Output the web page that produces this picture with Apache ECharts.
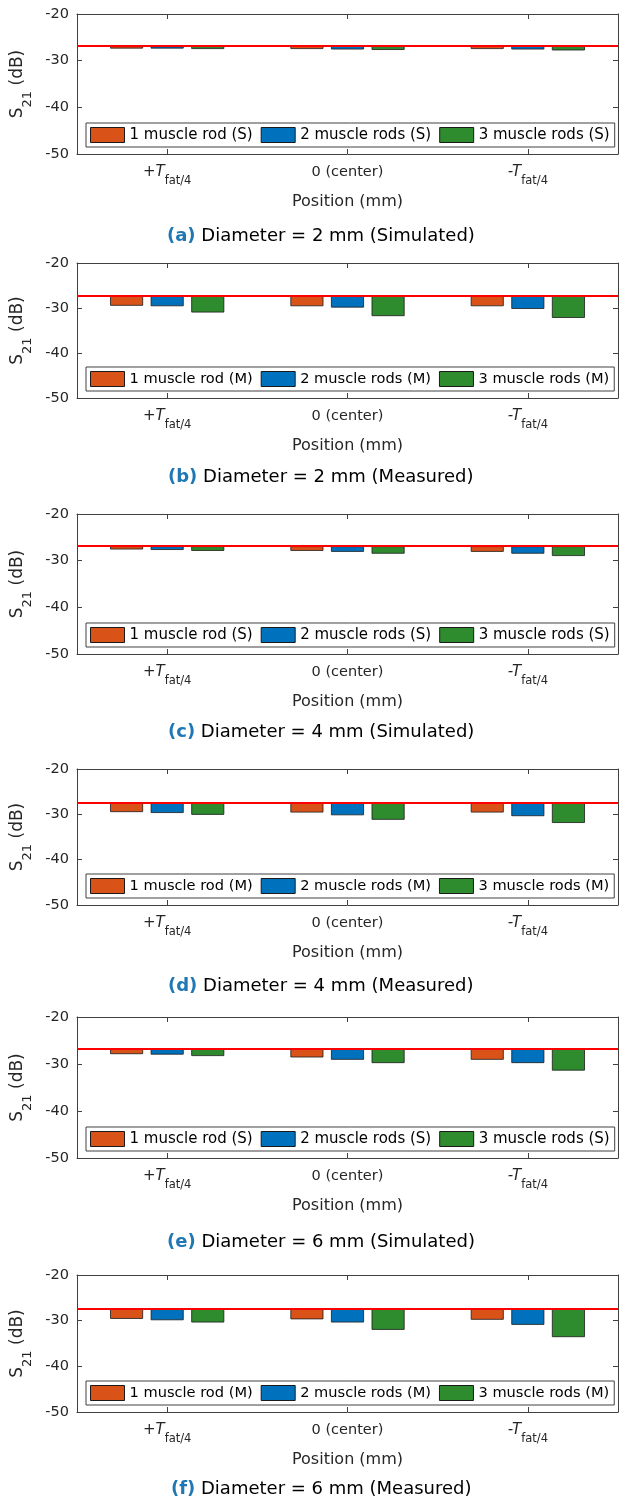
<!DOCTYPE html>
<html>
<head>
<meta charset="utf-8">
<title>S21 vs position</title>
<script src="https://cdn.jsdelivr.net/npm/echarts@6/dist/echarts.min.js"></script>
<style>
  html, body { margin: 0; padding: 0; background: #fff; }
  #main { width: 624px; height: 1508px; }
</style>
</head>
<body>
<div id="main"></div>
<script>
/*==================== 数据 ====================*/
// 横轴类别（下划线后为下标）
var positions = ['+T_fat/4', '0 (center)', '-T_fat/4'];
// 纵轴刻度
var yTicks = [-50, -40, -30, -20];
// 子图标号和标题
var panelTags = ['(a)', '(b)', '(c)', '(d)', '(e)', '(f)'];
var panelTitles = [
    'Diameter = 2 mm (Simulated)',
    'Diameter = 2 mm (Measured)',
    'Diameter = 4 mm (Simulated)',
    'Diameter = 4 mm (Measured)',
    'Diameter = 6 mm (Simulated)',
    'Diameter = 6 mm (Measured)'
];
var modeTags = ['S', 'M', 'S', 'M', 'S', 'M'];
var rodNames = ['1 muscle rod', '2 muscle rods', '3 muscle rods'];
// 参考线（无肌肉棒）
var refLevels = [-26.8, -27.3, -26.9, -27.4, -26.8, -27.4];
// 每个子图: [+T, 0, -T]
var oneRod = [
    [-27.4, -27.5, -27.5],
    [-29.5, -29.6, -29.6],
    [-27.6, -27.9, -28.1],
    [-29.5, -29.6, -29.6],
    [-27.9, -28.6, -29.1],
    [-29.6, -29.7, -29.8]
];
var twoRods = [
    [-27.4, -27.6, -27.6],
    [-29.6, -29.9, -30.2],
    [-27.7, -28.1, -28.5],
    [-29.7, -30.2, -30.4],
    [-28.0, -29.1, -29.8],
    [-29.9, -30.4, -30.9]
];
var threeRods = [
    [-27.5, -27.7, -27.8],
    [-31.0, -31.8, -32.2],
    [-27.9, -28.5, -29.0],
    [-30.1, -31.2, -31.9],
    [-28.3, -29.8, -31.4],
    [-30.4, -32.0, -33.6]
];

/*==================== 布局 ====================*/
var gridTops = [14, 263, 514, 769, 1017, 1275];
var gridHeights = [140, 135, 140, 136, 141, 137];
var captionTops = [227, 468, 723, 977, 1233, 1480];
var captionCenter = 321;

var font = 'DejaVu Sans';
var axisColor = '#404040';
var textColor = '#262626';
var barColors = ['#D95319', '#0072BD', '#2E8B2E'];
var yMin = yTicks[0], yMax = yTicks[yTicks.length - 1], yStep = yTicks[1] - yTicks[0];

// 量标题宽度，用来居中
var measureCtx = document.createElement('canvas').getContext('2d');
function captionWidth(tag, text) {
    measureCtx.font = 'bold 18px "' + font + '"';
    var w = measureCtx.measureText(tag).width;
    measureCtx.font = '18px "' + font + '"';
    return w + measureCtx.measureText(' ' + text).width;
}

function posLabel(value) { // +T_fat/4 -> 斜体 T + 下标
    var parts = value.split('_');
    if (parts.length > 1) {
        return '{i|' + parts[0] + '}{s|' + parts[1] + '}';
    }
    return '{m|' + value + '}';
}
var posRich = {
    m: { fontFamily: font, fontSize: 14.5, color: textColor, lineHeight: 18, verticalAlign: 'top' },
    i: { fontFamily: font, fontSize: 15, fontStyle: 'italic', color: textColor, lineHeight: 18, verticalAlign: 'top' },
    s: { fontFamily: font, fontSize: 11.5, color: textColor, lineHeight: 18, verticalAlign: 'top', padding: [10, 0, 0, 0] }
};
var lineCommon = { show: true, onZero: false, lineStyle: { color: axisColor, width: 1 } };
var tickCommon = { show: true, inside: true, length: 5, lineStyle: { color: axisColor, width: 1 } };

var grids = [], xAxes = [], yAxes = [], series = [], legends = [], titles = [];

for (var p = 0; p < 6; p++) {
    var ref = refLevels[p];
    var names = rodNames.map(function (n) { return n + ' (' + modeTags[p] + ')'; });
    var gTop = gridTops[p], gH = gridHeights[p];

    grids.push({ left: 77, width: 541, top: gTop, height: gH });

    // 下方类别轴 + 上方只画刻度
    xAxes.push({
        type: 'category', gridIndex: p, position: 'bottom', data: positions,
        axisLine: lineCommon,
        axisTick: { show: true, inside: true, length: 5, alignWithLabel: true, lineStyle: { color: axisColor } },
        axisLabel: { margin: 11, formatter: posLabel, rich: posRich },
        name: 'Position (mm)', nameLocation: 'middle', nameGap: 40,
        nameTextStyle: { fontFamily: font, fontSize: 16, color: textColor }
    });
    xAxes.push({
        type: 'category', gridIndex: p, position: 'top', data: positions,
        axisLine: lineCommon,
        axisTick: { show: true, inside: true, length: 5, alignWithLabel: true, lineStyle: { color: axisColor } },
        axisLabel: { show: false }
    });

    // 左侧数值轴 + 右侧只画刻度
    yAxes.push({
        type: 'value', gridIndex: p, position: 'left', min: yMin, max: yMax, interval: yStep,
        axisLine: lineCommon, axisTick: tickCommon, splitLine: { show: false },
        axisLabel: { margin: 8, fontFamily: font, fontSize: 14.5, color: textColor },
        name: '{s|S}{d|21}{s| (dB)}', nameLocation: 'middle', nameRotate: 90, nameGap: 40,
        nameTextStyle: {
            fontFamily: font, color: textColor,
            rich: {
                s: { fontFamily: font, fontSize: 17, color: textColor, lineHeight: 20, verticalAlign: 'top' },
                d: { fontFamily: font, fontSize: 13, color: textColor, lineHeight: 20, verticalAlign: 'top', padding: [12, 0, 0, 0] }
            }
        }
    });
    yAxes.push({
        type: 'value', gridIndex: p, position: 'right', min: yMin, max: yMax, interval: yStep,
        axisLine: lineCommon, axisTick: tickCommon, splitLine: { show: false },
        axisLabel: { show: false }
    });

    // 柱子：透明底座堆到参考线，再往下画差值
    [oneRod, twoRods, threeRods].forEach(function (rows, k) {
        var vals = rows[p];
        var stackId = 'p' + p + 'r' + k;
        series.push({
            type: 'bar', name: 'base', xAxisIndex: 2 * p, yAxisIndex: 2 * p,
            stack: stackId, barWidth: 33, barGap: '23%', silent: true,
            itemStyle: { color: 'rgba(0,0,0,0)', borderWidth: 0 },
            data: vals.map(function () { return ref; })
        });
        var s = {
            type: 'bar', name: names[k], xAxisIndex: 2 * p, yAxisIndex: 2 * p,
            stack: stackId, barWidth: 33, barGap: '23%',
            itemStyle: { color: barColors[k], borderColor: '#1a1a1a', borderWidth: 0.8 },
            data: vals.map(function (v) { return +(v - ref).toFixed(2); })
        };
        if (k === 0) {
            s.markLine = {
                silent: true, symbol: ['none', 'none'], label: { show: false },
                lineStyle: { color: '#ff0000', width: 2, type: 'solid' },
                data: [{ yAxis: ref }]
            };
        }
        series.push(s);
    });

    legends.push({
        data: names, selectedMode: false, orient: 'horizontal',
        left: 86, top: gTop + gH - 31, width: 600,
        icon: 'rect', itemWidth: 34, itemHeight: 15, itemGap: 8,
        padding: [4, 5, 4, 4],
        borderColor: axisColor, borderWidth: 1, backgroundColor: '#fff',
        itemStyle: { borderColor: '#1a1a1a', borderWidth: 1 },
        textStyle: { fontFamily: font, fontSize: modeTags[p] === 'M' ? 14.6 : 15, color: '#000' }
    });

    titles.push({
        text: '{b|' + panelTags[p] + '}{t| ' + panelTitles[p] + '}',
        left: Math.round(captionCenter - captionWidth(panelTags[p], panelTitles[p]) / 2),
        top: captionTops[p], padding: 0,
        textStyle: {
            fontFamily: font, fontSize: 18, fontWeight: 'normal',
            rich: {
                b: { fontFamily: font, fontSize: 18, fontWeight: 'bold', color: '#1f77b4' },
                t: { fontFamily: font, fontSize: 18, fontWeight: 'normal', color: '#000' }
            }
        }
    });
}

var myChart = echarts.init(document.getElementById('main'));
myChart.setOption({
    animation: false,
    backgroundColor: '#fff',
    title: titles,
    legend: legends,
    grid: grids,
    xAxis: xAxes,
    yAxis: yAxes,
    series: series
});
</script>
</body>
</html>
